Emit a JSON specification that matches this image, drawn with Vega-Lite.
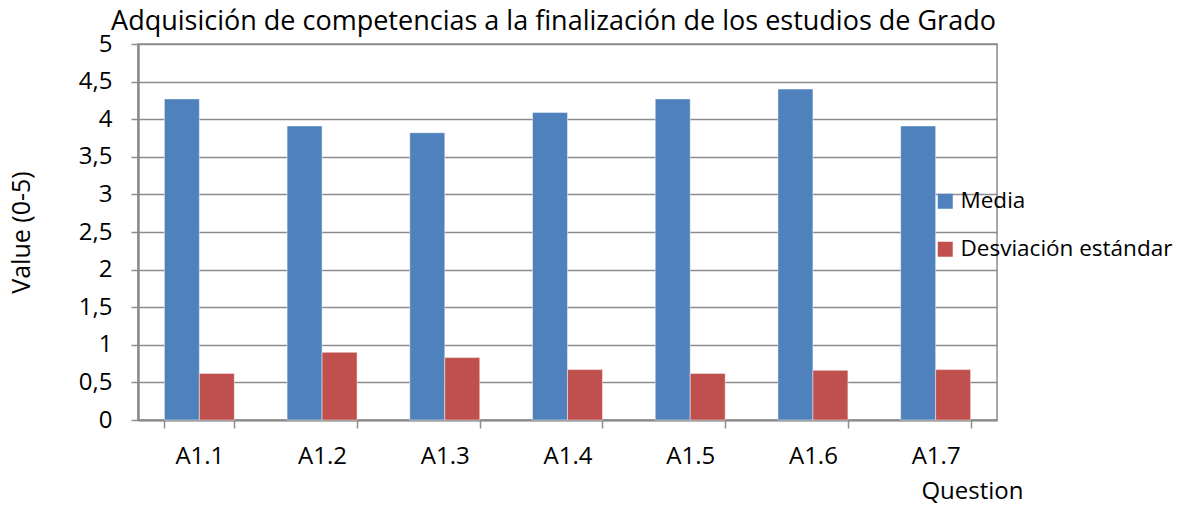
{
  "$schema": "https://vega.github.io/schema/vega-lite/v6.json",
  "autosize": "none",
  "width": 859,
  "height": 376,
  "padding": {"left": 138, "top": 44, "right": 189, "bottom": 85},
  "background": "#ffffff",
  "config": {
    "font": "Open Sans",
    "view": {"stroke": "#8c8c8c", "strokeWidth": 1.5}
  },
  "title": {
    "text": "Adquisición de competencias a la finalización de los estudios de Grado",
    "fontSize": 27,
    "fontWeight": "normal",
    "color": "#000000",
    "anchor": "middle",
    "dx": -14,
    "offset": -4
  },
  "data": {
    "values": [
      {"question": "A1.1", "series": "Media", "value": 4.27},
      {"question": "A1.1", "series": "Desviación estándar", "value": 0.62},
      {"question": "A1.2", "series": "Media", "value": 3.91},
      {"question": "A1.2", "series": "Desviación estándar", "value": 0.9},
      {"question": "A1.3", "series": "Media", "value": 3.82},
      {"question": "A1.3", "series": "Desviación estándar", "value": 0.83},
      {"question": "A1.4", "series": "Media", "value": 4.09},
      {"question": "A1.4", "series": "Desviación estándar", "value": 0.67},
      {"question": "A1.5", "series": "Media", "value": 4.27},
      {"question": "A1.5", "series": "Desviación estándar", "value": 0.62},
      {"question": "A1.6", "series": "Media", "value": 4.4},
      {"question": "A1.6", "series": "Desviación estándar", "value": 0.66},
      {"question": "A1.7", "series": "Media", "value": 3.91},
      {"question": "A1.7", "series": "Desviación estándar", "value": 0.67}
    ]
  },
  "mark": {"type": "bar", "stroke": "#ffffff", "strokeOpacity": 0.45, "strokeWidth": 1},
  "encoding": {
    "x": {
      "field": "question",
      "type": "nominal",
      "scale": {"paddingInner": 0.43, "paddingOuter": 0.215},
      "axis": {
        "title": "Question",
        "titleFontSize": 24,
        "titleFontWeight": "normal",
        "titleColor": "#000000",
        "titleAnchor": "end",
        "titleAlign": "right",
        "titleBaseline": "middle",
        "titleX": 885,
        "titleY": 71,
        "labelAngle": 0,
        "labelFontSize": 24,
        "labelColor": "#000000",
        "labelPadding": 16,
        "tickBand": "extent",
        "tickSize": 8,
        "tickColor": "#8c8c8c",
        "tickWidth": 1.5,
        "domainColor": "#8c8c8c",
        "domainWidth": 2,
        "grid": false
      }
    },
    "xOffset": {
      "field": "series",
      "type": "nominal",
      "sort": ["Media", "Desviación estándar"]
    },
    "y": {
      "field": "value",
      "type": "quantitative",
      "scale": {"domain": [0, 5], "nice": false},
      "axis": {
        "title": "Value (0-5)",
        "titleFontSize": 25,
        "titleFontWeight": "normal",
        "titleColor": "#000000",
        "titleAngle": -90,
        "titleBaseline": "middle",
        "titleAlign": "center",
        "titleX": -117,
        "titleY": 188,
        "values": [0, 0.5, 1, 1.5, 2, 2.5, 3, 3.5, 4, 4.5, 5],
        "labelExpr": "replace(toString(datum.value), '.', ',')",
        "labelFontSize": 24,
        "labelColor": "#000000",
        "labelPadding": 19,
        "tickSize": 7,
        "tickColor": "#8c8c8c",
        "tickWidth": 1.5,
        "domainColor": "#8c8c8c",
        "domainWidth": 2.5,
        "gridColor": "#8c8c8c",
        "gridWidth": 1.5
      }
    },
    "color": {
      "field": "series",
      "type": "nominal",
      "scale": {"domain": ["Media", "Desviación estándar"], "range": ["#4f81bd", "#c0504d"]},
      "legend": {
        "title": null,
        "orient": "none",
        "legendX": 796,
        "legendY": 146,
        "padding": 0,
        "symbolType": "square",
        "symbolSize": 225,
        "symbolStrokeWidth": 0,
        "symbolOpacity": 1,
        "labelFontSize": 22.5,
        "labelLimit": 0,
        "labelColor": "#000000",
        "labelOffset": 4,
        "rowPadding": 25
      }
    }
  }
}
